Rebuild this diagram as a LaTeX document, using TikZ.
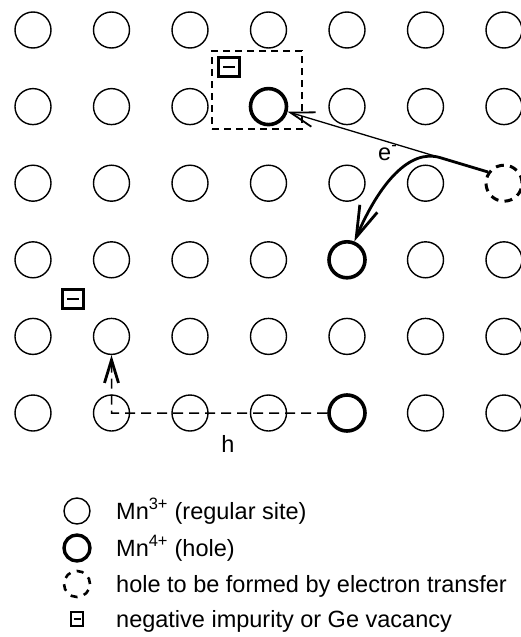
\documentclass[tikz,border=0pt]{standalone}
\usepackage{fontspec}
\setmainfont{Liberation Sans}
\usetikzlibrary{arrows.meta}

\tikzset{
  site/.style={circle, draw, minimum size=36pt, inner sep=0pt, line width=1.4pt},
  hole/.style={site, line width=3.6pt},
  future/.style={site, line width=3pt, dash pattern=on 8pt off 6.2pt},
  impurity/.style={draw, line width=2.4pt, minimum width=21pt, minimum height=19pt,
    inner sep=0pt,
    path picture={\draw[line width=2.4pt]
      ([xshift=-6pt]path picture bounding box.center) --
      ([xshift=6pt]path picture bounding box.center);}},
  impurity key/.style={impurity, line width=1.5pt, minimum width=12pt, minimum height=14pt,
    path picture={\draw[line width=1.5pt]
      ([xshift=-3.5pt]path picture bounding box.center) --
      ([xshift=3.5pt]path picture bounding box.center);}},
  cluster/.style={draw, line width=1.4pt, dash pattern=on 7pt off 5pt,
    minimum width=90pt, minimum height=78pt, inner sep=0pt},
  lbl/.style={font=\fontsize{23.5}{27}\selectfont, inner sep=0pt},
  transfer thin/.style={line width=1.3pt,
    -{Straight Barb[length=24pt, width=15pt, line width=1.8pt]}},
  transfer/.style={line width=2.8pt,
    -{Straight Barb[length=31pt, width=19pt, line width=2.8pt]}},
  hop/.style={line width=1.5pt, dash pattern=on 10pt off 6pt,
    -{Straight Barb[length=23pt, width=14pt, line width=2.8pt]}},
}

\begin{document}
\begin{tikzpicture}[x=1pt, y=-1pt]
\useasboundingbox (0,0) rectangle (521,637);

% regular Mn3+ sites of the lattice
\foreach \r in {1,...,6}{
  \foreach \c in {1,...,7}{
    \ifnum\r\c=24 \else\ifnum\r\c=45 \else\ifnum\r\c=65 \else\ifnum\r\c=37 \else
      \node[site] (s\r\c) at ({33+78.5*(\c-1)},{30+76.6*(\r-1)}) {};
    \fi\fi\fi\fi
  }
}

% holes (Mn4+) and the site that will become a hole
\node[hole]   (s24) at (268.5,106.6) {};
\node[hole]   (s45) at (347,259.8) {};
\node[hole]   (s65) at (347,413) {};
\node[future] (s37) at (504,183.2) {};

% hole bound to a negative centre
\node[cluster]  (pair) at (257,90) {};
\node[impurity] (m1) at (229,67) {};
\node[impurity] (m2) at (73,299) {};

% electron transfer paths
\coordinate (bend) at (440,157.6);
\draw[transfer thin] (s37.145) -- (s24.-15);
\draw[transfer] (s37.145) -- (bend) .. controls (410,148.6) and (380,182) .. (s45.68);
\node[lbl, anchor=base west] (elabel) at (378,160) {e\textsuperscript{-}};

% hole hopping path
\draw[hop] (s65.west) -- (s62.center) -- (s52.south);
\node[lbl, anchor=base] (hlabel) at (228,452) {h};

% key
\node[site, minimum size=26pt] (k1) at (77,511) {};
\node[hole, minimum size=26pt, line width=3.4pt] (k2) at (77,548) {};
\node[future, minimum size=26pt, line width=2.6pt, dash pattern=on 7pt off 6.6pt] (k3) at (77,584) {};
\node[impurity key] (k4) at (77,619) {};
\node[lbl, anchor=base west] (t1) at (116,519) {Mn\textsuperscript{3+} (regular site)};
\node[lbl, anchor=base west] (t2) at (116,556) {Mn\textsuperscript{4+} (hole)};
\node[lbl, anchor=base west] (t3) at (116,592) {hole to be formed by electron transfer};
\node[lbl, anchor=base west] (t4) at (116,627) {negative impurity or Ge vacancy};
\end{tikzpicture}
\end{document}
